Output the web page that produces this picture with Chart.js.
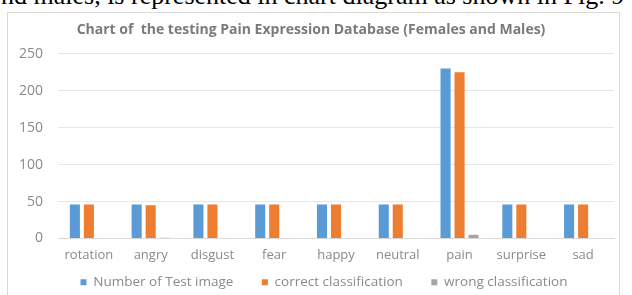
<!DOCTYPE html>
<html>
<head>
<meta charset="utf-8">
<script src="https://cdn.jsdelivr.net/npm/chart.js@4"></script>
<style>
  body { margin: 0; width: 632px; height: 295px; overflow: hidden; background: #fff; position: relative; }
  #caption { position: absolute; left: 1px; top: -19px; font-family: "Liberation Serif", serif; font-size: 26px; color: #000; white-space: nowrap; }
  #frame { position: absolute; left: 7px; top: 12px; width: 611px; height: 290px; border: 1px solid #d9d9d9; background: #fff; }
  #wrap { position: absolute; left: 0; top: 0; width: 611px; height: 283px; }
</style>
</head>
<body>
<div id="caption">nd males, is represented in chart diagram as shown in Fig. 9</div>
<div id="frame"><div id="wrap"><canvas id="barChart"></canvas></div></div>
<script>
const categories = ['rotation', 'angry', 'disgust', 'fear', 'happy', 'neutral', 'pain', 'surprise', 'sad'];
const testImages = [46, 46, 46, 46, 46, 46, 230, 46, 46];
const correct = [46, 45, 46, 46, 46, 46, 225, 46, 46];
const wrong = [0, 1, 0, 0, 0, 0, 5, 0, 0];
const yTicks = [0, 50, 100, 150, 200, 250];

const textColor = '#8a8a8a';
const fontFamily = '"Open Sans", sans-serif';

// legend sits a little right of centre in the original
const legendShift = {
  id: 'legendShift',
  afterLayout(chart) {
    chart.legend.left += 13;
    chart.legend.right += 13;
  }
};

const ctxBar = document.getElementById('barChart').getContext('2d');
const barChart = new Chart(ctxBar, {
  type: 'bar',
  data: {
    labels: categories,
    datasets: [
      { label: 'Number of Test image', data: testImages, backgroundColor: '#5B9BD5' },
      { label: 'correct classification', data: correct, backgroundColor: '#ED7D31' },
      { label: 'wrong classification', data: wrong, backgroundColor: '#A5A5A5' }
    ]
  },
  plugins: [legendShift],
  options: {
    responsive: true,
    maintainAspectRatio: false,
    animation: false,
    categoryPercentage: 0.68,
    barPercentage: 0.72,
    layout: { padding: { left: 0, right: 5, top: 0, bottom: -3 } },
    plugins: {
      title: {
        display: true,
        text: 'Chart of  the testing Pain Expression Database (Females and Males)',
        color: '#7a7a7a',
        font: { family: fontFamily, size: 14, weight: 'bold' },
        padding: { top: 9, bottom: 15 }
      },
      legend: {
        position: 'bottom',
        labels: {
          color: textColor,
          font: { family: fontFamily, size: 13.5 },
          boxWidth: 6, boxHeight: 6,
          padding: 11,
          generateLabels: (chart) => {
            const items = Chart.defaults.plugins.legend.labels.generateLabels(chart);
            items.forEach((it, i) => { if (i < items.length - 1) it.text += '     '; });
            return items;
          }
        }
      },
      tooltip: { enabled: false }
    },
    scales: {
      x: {
        grid: { display: false, drawTicks: false },
        border: { color: '#d9d9d9' },
        ticks: { color: textColor, font: { family: fontFamily, size: 13 }, padding: 9 },
        afterFit: (axis) => { axis.height = 26; }
      },
      y: {
        min: 0,
        max: 250,
        afterBuildTicks: (axis) => { axis.ticks = yTicks.map(v => ({ value: v })); },
        grid: { color: '#e6e6e6', drawTicks: false },
        border: { display: false },
        ticks: { color: textColor, font: { family: fontFamily, size: 14 }, padding: 15 },
        afterFit: (axis) => { axis.width = 50; }
      }
    }
  }
});
</script>
</body>
</html>
